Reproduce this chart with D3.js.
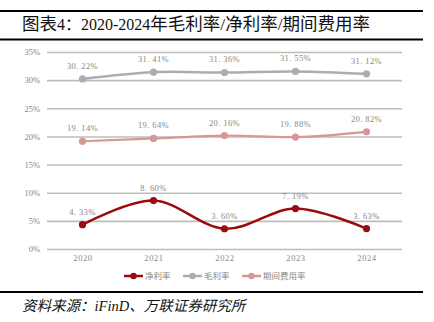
<!DOCTYPE html>
<html><head><meta charset="utf-8">
<script src="https://cdn.jsdelivr.net/npm/d3@7"></script>
<style>body{margin:0;background:#fff;}svg{display:block;}</style>
</head><body>
<svg id="c" width="434" height="322"></svg>
<script>
const years = ["2020","2021","2022","2023","2024"];
const netRate = [4.33, 8.60, 3.60, 7.19, 3.63];
const grossRate = [30.22, 31.41, 31.36, 31.55, 31.12];
const expenseRate = [19.14, 19.64, 20.16, 19.88, 20.82];
const yTicks = [0,5,10,15,20,25,30,35];
const seriesNames = ["净利率","毛利率","期间费用率"];
const titleParts = [["图表",17.5],["4：",16],["2020-2024",16],["年毛利率/净利率/期间费用率",17.5]];
const sourceText = "资料来源：iFinD、万联证券研究所";

const svg = d3.select("#c");
const serif = "'Liberation Serif','DejaVu Serif','Noto Sans CJK SC',serif";

// frame lines
svg.append("line").attr("x1",0).attr("x2",423).attr("y1",11).attr("y2",11).attr("stroke","#000").attr("stroke-width",2);
svg.append("line").attr("x1",0).attr("x2",423).attr("y1",39.5).attr("y2",39.5).attr("stroke","#000").attr("stroke-width",2);
svg.append("line").attr("x1",0).attr("x2",423).attr("y1",292).attr("y2",292).attr("stroke","#000").attr("stroke-width",2);

const tt = svg.append("text").attr("x",22).attr("y",30).attr("font-family",serif).attr("fill","#111");
titleParts.forEach(p=>tt.append("tspan").attr("font-size",p[1]).text(p[0]));
svg.append("text").attr("x",22).attr("y",311).attr("font-family",serif).attr("font-size",14.5).attr("font-style","italic").attr("fill","#111").text(sourceText);

const x = d3.scalePoint().domain(years).range([47,402]).padding(0.5);
const y = d3.scaleLinear().domain([0,35]).range([249,52]);

// gridlines + y labels
const yAxis = d3.axisLeft(y).tickValues(yTicks).tickFormat(d=>d+"%").tickSize(-(402-47)).tickPadding(7);
const ga = svg.append("g").attr("transform","translate(47,0)").call(yAxis);
ga.select(".domain").remove();
ga.selectAll(".tick line").attr("stroke","#bdbdbd").attr("stroke-width",1.6);
ga.selectAll(".tick text").attr("font-family",serif).attr("font-size",8.5).attr("fill","#888");

const xAxis = d3.axisBottom(x).tickSize(0).tickPadding(6);
const gx = svg.append("g").attr("transform","translate(0,249)").call(xAxis);
gx.select(".domain").remove();
gx.selectAll(".tick text").attr("font-family",serif).attr("font-size",8.5).attr("fill","#888").attr("letter-spacing",0.6);

const series = [
  {name:seriesNames[1], vals:grossRate, color:"#adadad", w:2.5},
  {name:seriesNames[2], vals:expenseRate, color:"#d99694", w:2.2},
  {name:seriesNames[0], vals:netRate, color:"#9b0a0e", w:2.5}
];
const line = d3.line().x((d,i)=>x(years[i])).y(d=>y(d)).curve(d3.curveCardinal.tension(0));
series.forEach(s=>{
  svg.append("path").datum(s.vals).attr("d",line).attr("fill","none").attr("stroke",s.color).attr("stroke-width",s.w);
  svg.selectAll(null).data(s.vals).enter().append("circle")
    .attr("cx",(d,i)=>x(years[i])).attr("cy",d=>y(d)).attr("r",3.6).attr("fill",s.color);
  svg.selectAll(null).data(s.vals).enter().append("text")
    .attr("x",(d,i)=>x(years[i])).attr("y",d=>y(d)-10)
    .attr("text-anchor","middle").attr("font-family",serif).attr("font-size",8.5).attr("fill","#888")
    .attr("letter-spacing",0.4)
    .text(d=>d.toFixed(2).replace(".",". ")+"%");
});

// legend
const legend = [
  {name:seriesNames[0], color:"#9b0a0e", x:124},
  {name:seriesNames[1], color:"#adadad", x:183},
  {name:seriesNames[2], color:"#d99694", x:242}
];
legend.forEach(l=>{
  svg.append("line").attr("x1",l.x).attr("x2",l.x+19).attr("y1",276).attr("y2",276).attr("stroke",l.color).attr("stroke-width",2.5);
  svg.append("circle").attr("cx",l.x+9.5).attr("cy",276).attr("r",3.2).attr("fill",l.color);
  svg.append("text").attr("x",l.x+21).attr("y",279).attr("font-family",serif).attr("font-size",8.5).attr("fill","#888").text(l.name);
});
</script>
</body></html>
